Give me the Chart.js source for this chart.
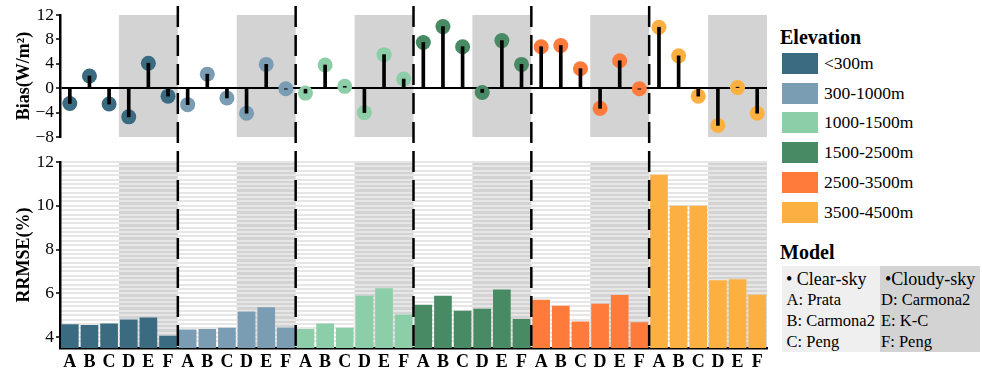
<!DOCTYPE html>
<html>
<head>
<meta charset="utf-8">
<script src="https://cdn.jsdelivr.net/npm/chart.js@4.4.1/dist/chart.umd.min.js"></script>
<style>
  html, body { margin: 0; padding: 0; background: #fff; }
  #wrap { position: relative; width: 982px; height: 376px; overflow: hidden; font-family: "Liberation Serif", serif; color: #000; }
  #topChart { position: absolute; left: 0; top: 0; z-index: 1; }
  #bottomChart { position: absolute; left: 0; top: 0; z-index: 2; }
  .lg { position: absolute; line-height: 1; white-space: nowrap; z-index: 3; font-family: "Liberation Serif", serif; }
  .sw { position: absolute; width: 36px; height: 21px; z-index: 3; }
  .sl { position: absolute; height: 21px; line-height: 21px; font-size: 17.5px; white-space: nowrap; z-index: 3; font-family: "Liberation Serif", serif; }
</style>
</head>
<body>
<div id="wrap">
  <canvas id="topChart" width="775" height="150"></canvas>
  <canvas id="bottomChart" width="775" height="376"></canvas>
  <div id="legend"></div>
</div>
<script>
// Categories
const groups = ['<300m', '300-1000m', '1000-1500m', '1500-2500m', '2500-3500m', '3500-4500m'];
const models = ['A', 'B', 'C', 'D', 'E', 'F'];
const groupColors = ['#3a6b80', '#7a9db3', '#8ccea8', '#478a63', '#fe7b3c', '#fdb042'];

// Bias (W/m2) per elevation group, models A-F
const bias300 = [-2.5, 2.0, -2.6, -4.7, 4.1, -1.3];
const bias1000 = [-2.7, 2.3, -1.6, -4.1, 3.9, -0.1];
const bias1500 = [-0.8, 3.8, 0.3, -4.0, 5.5, 1.5];
const bias2500 = [7.5, 10.1, 6.8, -0.7, 7.8, 3.9];
const bias3500 = [6.8, 7.0, 3.2, -3.3, 4.5, -0.1];
const bias4500 = [10.0, 5.3, -1.3, -6.1, 0.1, -4.1];

// RRMSE (%) per elevation group, models A-F
const rrmse300 = [4.59, 4.55, 4.62, 4.80, 4.89, 4.06];
const rrmse1000 = [4.34, 4.37, 4.43, 5.17, 5.36, 4.44];
const rrmse1500 = [4.37, 4.62, 4.43, 5.89, 6.23, 5.03];
const rrmse2500 = [5.48, 5.89, 5.20, 5.29, 6.17, 4.83];
const rrmse3500 = [5.70, 5.43, 4.71, 5.52, 5.92, 4.68];
const rrmse4500 = [11.42, 10.0, 10.0, 6.60, 6.64, 5.93];

// Tick labels
const biasTicks = [-8, -4, 0, 4, 8, 12];
const rrmseTicks = [4, 6, 8, 10, 12];

// Model legend
const clearSky = ['A: Prata', 'B: Carmona2', 'C: Peng'];
const cloudySky = ['D: Carmona2', 'E: K-C', 'F: Peng'];

const FONT = '"Liberation Serif", serif';
const labels = groups.flatMap(() => models);
const biasAll = [].concat(bias300, bias1000, bias1500, bias2500, bias3500, bias4500);
const rrmseAll = [].concat(rrmse300, rrmse1000, rrmse1500, rrmse2500, rrmse3500, rrmse4500);
const colorAll = labels.map((_, i) => groupColors[Math.floor(i / models.length)]);

// gray background behind the cloudy-sky models (D-F) of each group
const shadePlugin = {
    id: 'shade',
    beforeDraw(chart) {
        const { ctx, chartArea, scales: { x } } = chart;
        const w = x.getPixelForValue(1) - x.getPixelForValue(0);
        ctx.save();
        ctx.fillStyle = '#d3d3d3';
        groups.forEach((g, gi) => {
            const x0 = x.getPixelForValue(gi * 6 + 3) - w / 2;
            const x1 = x.getPixelForValue(gi * 6 + 5) + w / 2;
            ctx.fillRect(x0, chartArea.top, x1 - x0, chartArea.bottom - chartArea.top);
        });
        ctx.restore();
    }
};

// dashed separators between elevation groups, running through both panels
const dashPlugin = {
    id: 'dashes',
    afterDraw(chart) {
        const { ctx, chartArea, scales: { x } } = chart;
        ctx.save();
        ctx.strokeStyle = '#000';
        ctx.lineWidth = 2.5;
        ctx.setLineDash([21, 8]);
        for (let gi = 1; gi < groups.length; gi++) {
            const px = (x.getPixelForValue(gi * 6 - 1) + x.getPixelForValue(gi * 6)) / 2;
            ctx.beginPath();
            ctx.moveTo(px, 6);
            ctx.lineTo(px, chartArea.bottom);
            ctx.stroke();
        }
        ctx.restore();
    }
};

const minus = v => (v < 0 ? '\u2212' + Math.abs(v) : String(v));

// Top panel: bias lollipops
new Chart(document.getElementById('topChart'), {
    type: 'bar',
    data: {
        labels: labels,
        datasets: [
            {
                type: 'bar',
                data: biasAll,
                backgroundColor: '#000',
                barThickness: 3,
                order: 0
            },
            {
                type: 'line',
                data: biasAll,
                showLine: false,
                pointRadius: 7.5,
                pointHoverRadius: 7.5,
                pointBorderWidth: 0,
                pointBackgroundColor: colorAll,
                order: 1
            }
        ]
    },
    options: {
        responsive: false,
        animation: false,
        events: [],
        layout: { padding: { left: 0, right: 8, top: 15, bottom: 13 } },
        plugins: { legend: { display: false }, tooltip: { enabled: false } },
        scales: {
            x: { display: false, offset: true },
            y: {
                min: biasTicks[0],
                max: biasTicks[biasTicks.length - 1],
                afterBuildTicks: s => { s.ticks = biasTicks.map(v => ({ value: v })); },
                ticks: { callback: v => minus(v), color: '#000', padding: 2, font: { family: FONT, size: 17.5 } },
                grid: {
                    color: c => (c.tick && c.tick.value === 0 ? '#000' : 'rgba(0,0,0,0)'),
                    lineWidth: 2,
                    tickColor: '#000',
                    tickLength: 4,
                    tickWidth: 1.5
                },
                border: { color: '#000', width: 2.5 },
                title: { display: true, text: 'Bias(W/m\u00b2)', color: '#000', padding: { top: 14, bottom: 0 }, font: { family: FONT, size: 18, weight: 'bold' } },
                afterFit: s => { s.width = 60; }
            }
        }
    },
    plugins: [shadePlugin]
});

// Bottom panel: RRMSE bars
const isMajor = v => Math.abs(v - Math.round(v)) < 1e-6 && rrmseTicks.includes(Math.round(v));
new Chart(document.getElementById('bottomChart'), {
    type: 'bar',
    data: {
        labels: labels,
        datasets: [{
            data: rrmseAll,
            backgroundColor: colorAll,
            barPercentage: 0.9,
            categoryPercentage: 1
        }]
    },
    options: {
        responsive: false,
        animation: false,
        events: [],
        layout: { padding: { left: 0, right: 8, top: 162, bottom: 0 } },
        plugins: { legend: { display: false }, tooltip: { enabled: false } },
        scales: {
            x: {
                grid: { display: true, drawOnChartArea: false, drawTicks: false, color: 'rgba(0,0,0,0)' },
                border: { color: '#000', width: 2.5 },
                ticks: { color: '#000', padding: 5, autoSkip: false, maxRotation: 0, font: { family: FONT, size: 18, weight: 'bold', lineHeight: 1 } }
            },
            y: {
                min: 3.5,
                max: 12,
                ticks: {
                    stepSize: 0.2,
                    maxTicksLimit: 100,
                    autoSkip: false,
                    callback: v => (isMajor(v) ? String(Math.round(v)) : ''),
                    color: '#000',
                    padding: 2,
                    font: { family: FONT, size: 17.5 }
                },
                grid: {
                    color: '#e6e6e6',
                    lineWidth: 2,
                    tickColor: c => (c.tick && isMajor(c.tick.value) ? '#000' : 'rgba(0,0,0,0)'),
                    tickLength: 4,
                    tickWidth: 1.5
                },
                border: { color: '#000', width: 2.5 },
                title: { display: true, text: 'RRMSE(%)', color: '#000', padding: { top: 14, bottom: 0 }, font: { family: FONT, size: 18, weight: 'bold' } },
                afterFit: s => { s.width = 60; }
            }
        }
    },
    plugins: [shadePlugin, dashPlugin]
});

// Legend (HTML)
const legend = document.getElementById('legend');
function addText(text, left, baseline, size, bold) {
    const d = document.createElement('div');
    d.className = 'lg';
    d.textContent = text;
    d.style.left = left + 'px';
    d.style.top = (baseline - size * 0.8375) + 'px';
    d.style.fontSize = size + 'px';
    if (bold) d.style.fontWeight = 'bold';
    legend.appendChild(d);
}
addText('Elevation', 780, 44, 20, true);
groups.forEach((g, i) => {
    const top = 53 + i * 29.7;
    const sw = document.createElement('div');
    sw.className = 'sw';
    sw.style.left = '782px';
    sw.style.top = top + 'px';
    sw.style.background = groupColors[i];
    legend.appendChild(sw);
    const lb = document.createElement('div');
    lb.className = 'sl';
    lb.style.left = '824px';
    lb.style.top = top + 'px';
    lb.textContent = g;
    legend.appendChild(lb);
});
addText('Model', 780, 259, 20, true);
const boxL = document.createElement('div');
boxL.style.cssText = 'position:absolute;left:782px;top:266px;width:98px;height:86px;background:#efefef;z-index:2';
legend.appendChild(boxL);
const boxR = document.createElement('div');
boxR.style.cssText = 'position:absolute;left:880px;top:266px;width:100px;height:86px;background:#d3d3d3;z-index:2';
legend.appendChild(boxR);
addText('\u2022 Clear-sky', 786, 285, 18, false);
addText('\u2022Cloudy-sky', 885, 285, 18, false);
const rowBase = [306, 327.3, 348.3];
clearSky.forEach((t, i) => addText(t, 786.5, rowBase[i], 16.5, false));
cloudySky.forEach((t, i) => addText(t, 881, rowBase[i], 16.5, false));
</script>
</body>
</html>
